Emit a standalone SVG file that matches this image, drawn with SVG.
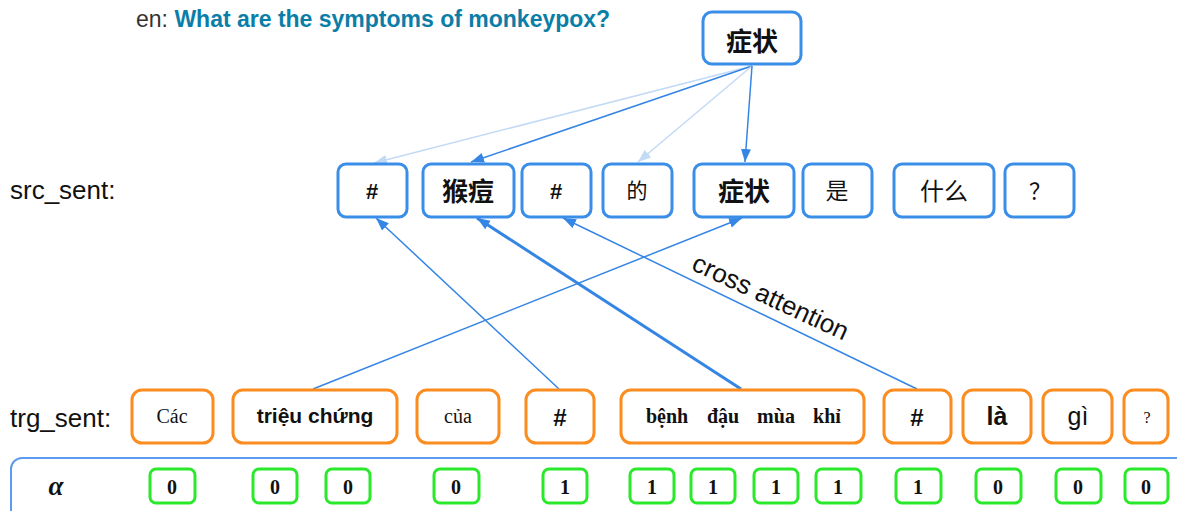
<svg xmlns="http://www.w3.org/2000/svg" width="1177" height="511" viewBox="0 0 1177 511">
<style>
.src rect{fill:#fff;stroke:#3a8ee8;stroke-width:3}
.trg rect{fill:#fff;stroke:#fb8c1f;stroke-width:3}
.al rect{fill:#fff;stroke:#2ae82a;stroke-width:3}
.cjk{font-family:"Noto Sans CJK SC","Noto Sans CJK TC",sans-serif;text-anchor:middle;dominant-baseline:central;fill:#111}
.sans{font-family:"Liberation Sans",Arial,sans-serif;fill:#111}
.serif{font-family:"Liberation Serif","Times New Roman",serif;fill:#111}
.mid{text-anchor:middle}
.b{font-weight:bold}
.num{font-family:"Liberation Serif","Times New Roman",serif;font-weight:bold;font-size:20px;text-anchor:middle;fill:#111}
.lnk{stroke:#3585e5;stroke-width:1.5;fill:none;marker-end:url(#ah)}
.lt{stroke:#c3daf5;stroke-width:1.5;fill:none;marker-end:url(#ahl)}
.thk{stroke:#3585e5;stroke-width:3;fill:none;marker-end:url(#ah)}
</style>
<defs>
<marker id="ah" markerUnits="userSpaceOnUse" markerWidth="14" markerHeight="12" refX="13" refY="5" orient="auto"><path d="M0,0 L13,5 L0,10 Z" fill="#3585e5"/></marker>
<marker id="ahl" markerUnits="userSpaceOnUse" markerWidth="14" markerHeight="12" refX="13" refY="5" orient="auto"><path d="M0,0 L13,5 L0,10 Z" fill="#c3daf5"/></marker>
</defs>
<rect width="1177" height="511" fill="#fff"/>
<text x="136" y="27" class="sans" font-size="23" style="fill:#333">en: <tspan font-weight="bold" style="fill:#0b7ea8">What are the symptoms of monkeypox?</tspan></text>
<text x="10" y="199" class="sans" font-size="26">src_sent:</text>
<text x="10" y="427" class="sans" font-size="26">trg_sent:</text>

<g id="connectors">
<line class="lt" x1="752" y1="66" x2="374" y2="163"/>
<line class="lnk" x1="752" y1="66" x2="471" y2="162"/>
<line class="lt" x1="752" y1="66" x2="638" y2="162"/>
<line class="lnk" x1="752" y1="66" x2="745" y2="162"/>
<line class="lnk" x1="313" y1="389" x2="742" y2="218"/>
<line class="lnk" x1="559" y1="389" x2="376" y2="218"/>
<line class="thk" x1="741" y1="389" x2="477" y2="218"/>
<line class="lnk" x1="917" y1="389" x2="563" y2="218"/>
<text class="sans mid" font-size="26" transform="translate(767,305) rotate(25)">cross attention</text>
</g>

<g id="top" class="src"><rect x="703" y="12" width="98" height="52" rx="9"/><text x="752" y="39" class="cjk b" font-size="26">症状</text></g>

<g id="s1" class="src"><rect x="338" y="164" width="69" height="53" rx="8"/><text x="372" y="199" class="sans mid b" font-size="22">#</text></g>
<g id="s2" class="src"><rect x="423" y="164" width="91" height="53" rx="8"/><text x="468" y="189" class="cjk b" font-size="26">猴痘</text></g>
<g id="s3" class="src"><rect x="522" y="164" width="69" height="53" rx="8"/><text x="556" y="199" class="sans mid b" font-size="22">#</text></g>
<g id="s4" class="src"><rect x="603" y="164" width="69" height="53" rx="8"/><text x="637" y="189" class="cjk" font-size="21">的</text></g>
<g id="s5" class="src"><rect x="694" y="164" width="100" height="53" rx="8"/><text x="744" y="189" class="cjk b" font-size="26">症状</text></g>
<g id="s6" class="src"><rect x="803" y="164" width="69" height="53" rx="8"/><text x="837" y="189" class="cjk" font-size="23">是</text></g>
<g id="s7" class="src"><rect x="894" y="164" width="100" height="53" rx="8"/><text x="944" y="189" class="cjk" font-size="24">什么</text></g>
<g id="s8" class="src"><rect x="1005" y="164" width="69" height="53" rx="8"/><text x="1040" y="189" class="cjk" font-size="22">？</text></g>

<g id="t1" class="trg"><rect x="132" y="390" width="81" height="53" rx="10"/><text x="172" y="423" class="serif mid" font-size="20">Các</text></g>
<g id="t2" class="trg"><rect x="233" y="390" width="164" height="53" rx="10"/><text x="315" y="423" class="sans mid b" font-size="21">triệu chứng</text></g>
<g id="t3" class="trg"><rect x="417" y="390" width="82" height="53" rx="10"/><text x="458" y="423" class="serif mid" font-size="20">của</text></g>
<g id="t4" class="trg"><rect x="526" y="390" width="68" height="53" rx="10"/><text x="560" y="426" class="sans mid b" font-size="24">#</text></g>
<g id="t5" class="trg"><rect x="621" y="390" width="243" height="53" rx="10"/>
<text x="667" y="423" class="serif mid b" font-size="20">bệnh</text>
<text x="723" y="423" class="serif mid b" font-size="20">đậu</text>
<text x="776" y="423" class="serif mid b" font-size="20">mùa</text>
<text x="827" y="423" class="serif mid b" font-size="20">khỉ</text></g>
<g id="t6" class="trg"><rect x="884" y="390" width="67" height="53" rx="10"/><text x="917" y="426" class="sans mid b" font-size="24">#</text></g>
<g id="t7" class="trg"><rect x="963" y="390" width="68" height="53" rx="10"/><text x="997" y="425" class="sans mid b" font-size="25">là</text></g>
<g id="t8" class="trg"><rect x="1043" y="390" width="69" height="53" rx="10"/><text x="1078" y="425" class="sans mid" font-size="25">gì</text></g>
<g id="t9" class="trg"><rect x="1124" y="390" width="44" height="53" rx="10"/><text x="1147" y="423" class="serif mid" font-size="16">?</text></g>

<g id="alpha">
<rect x="11" y="458" width="1220" height="100" rx="11" fill="none" stroke="#5c9cf0" stroke-width="2"/>
<text x="56" y="495" class="serif mid b" font-style="italic" font-size="27">α</text>
<g class="al">
<rect x="150" y="469" width="45" height="34" rx="6"/><text x="172" y="494" class="num">0</text>
<rect x="253" y="469" width="44" height="34" rx="6"/><text x="275" y="494" class="num">0</text>
<rect x="326" y="469" width="44" height="34" rx="6"/><text x="348" y="494" class="num">0</text>
<rect x="434" y="469" width="45" height="34" rx="6"/><text x="456" y="494" class="num">0</text>
<rect x="543" y="469" width="44" height="34" rx="6"/><text x="565" y="494" class="num">1</text>
<rect x="630" y="469" width="44" height="34" rx="6"/><text x="652" y="494" class="num">1</text>
<rect x="691" y="469" width="44" height="34" rx="6"/><text x="713" y="494" class="num">1</text>
<rect x="754" y="469" width="44" height="34" rx="6"/><text x="776" y="494" class="num">1</text>
<rect x="816" y="469" width="45" height="34" rx="6"/><text x="838" y="494" class="num">1</text>
<rect x="896" y="469" width="45" height="34" rx="6"/><text x="918" y="494" class="num">1</text>
<rect x="976" y="469" width="45" height="34" rx="6"/><text x="998" y="494" class="num">0</text>
<rect x="1056" y="469" width="45" height="34" rx="6"/><text x="1078" y="494" class="num">0</text>
<rect x="1125" y="469" width="43" height="34" rx="6"/><text x="1146" y="494" class="num">0</text>
</g>
</g>
</svg>
